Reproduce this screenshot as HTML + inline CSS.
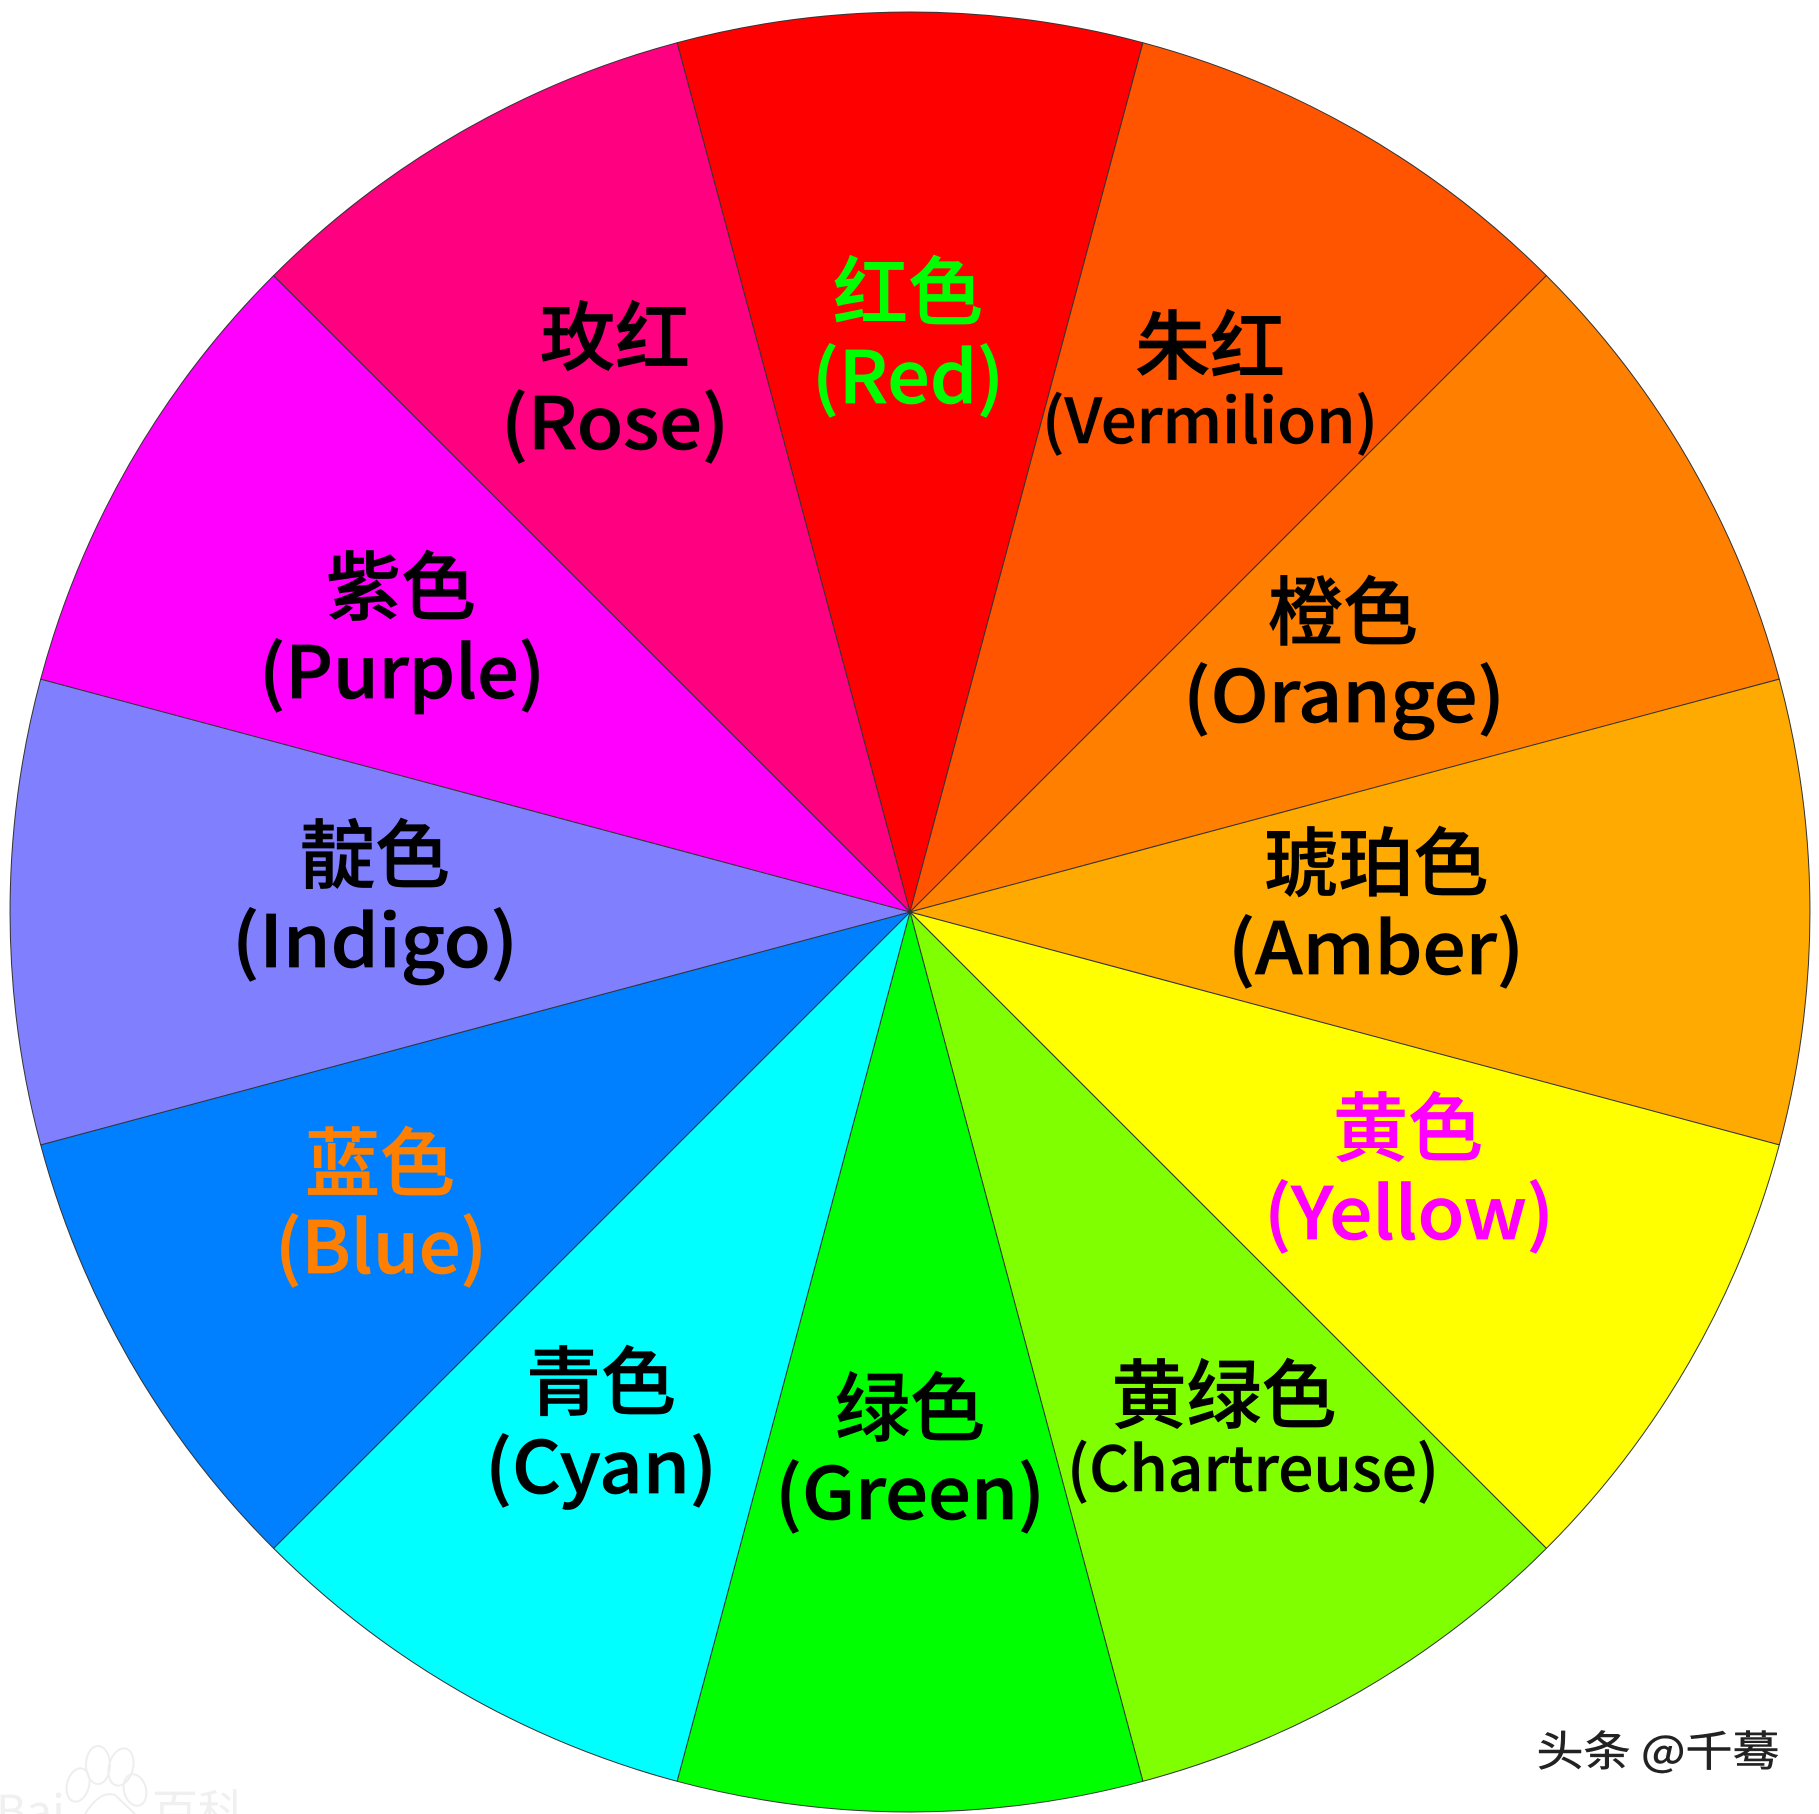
<!DOCTYPE html>
<html lang="zh">
<head>
<meta charset="utf-8">
<title>色轮</title>
<style>
html,body{margin:0;padding:0;background:#fff;width:1819px;height:1814px;overflow:hidden}
svg{display:block}
text{font-family:"Noto Sans CJK SC","Liberation Sans",sans-serif;font-weight:500;text-anchor:middle}
.c{font-size:75px;stroke-width:.7px}
.l{font-size:72px;stroke-width:.8px}
.s{font-size:62px;stroke-width:.6px}
</style>
</head>
<body>
<svg xmlns="http://www.w3.org/2000/svg" width="1819" height="1814" viewBox="0 0 1819 1814">
<rect width="1819" height="1814" fill="#fff"/>
<g stroke="#333" stroke-width="1" stroke-linejoin="round">
<path fill="#ff0000" d="M910 912L677.1 42.7A900 900 0 0 1 1142.9 42.7Z"/>
<path fill="#ff5500" d="M910 912L1142.9 42.7A900 900 0 0 1 1546.4 275.6Z"/>
<path fill="#ff8000" d="M910 912L1546.4 275.6A900 900 0 0 1 1779.3 679.1Z"/>
<path fill="#ffaa00" d="M910 912L1779.3 679.1A900 900 0 0 1 1779.3 1144.9Z"/>
<path fill="#ffff00" d="M910 912L1779.3 1144.9A900 900 0 0 1 1546.4 1548.4Z"/>
<path fill="#80ff00" d="M910 912L1546.4 1548.4A900 900 0 0 1 1142.9 1781.3Z"/>
<path fill="#00ff00" d="M910 912L1142.9 1781.3A900 900 0 0 1 677.1 1781.3Z"/>
<path fill="#00ffff" d="M910 912L677.1 1781.3A900 900 0 0 1 273.6 1548.4Z"/>
<path fill="#0080ff" d="M910 912L273.6 1548.4A900 900 0 0 1 40.7 1144.9Z"/>
<path fill="#8080ff" d="M910 912L40.7 1144.9A900 900 0 0 1 40.7 679.1Z"/>
<path fill="#ff00ff" d="M910 912L40.7 679.1A900 900 0 0 1 273.6 275.6Z"/>
<path fill="#ff0080" d="M910 912L273.6 275.6A900 900 0 0 1 677.1 42.7Z"/>
</g>

<g fill="#000" stroke="#000">
<text class="c" x="615" y="364">玫红</text>
<text class="l" x="615" y="449" textLength="228" lengthAdjust="spacingAndGlyphs">(Rose)</text>
<text class="c" x="1210" y="373">朱红</text>
<text class="s" x="1210" y="443" textLength="336" lengthAdjust="spacingAndGlyphs">(Vermilion)</text>
<text class="c" x="1343" y="639">橙色</text>
<text class="l" x="1344" y="722" textLength="322" lengthAdjust="spacingAndGlyphs">(Orange)</text>
<text class="c" x="1376" y="890">琥珀色</text>
<text class="l" x="1376" y="974" textLength="296" lengthAdjust="spacingAndGlyphs">(Amber)</text>
<text class="c" x="1224" y="1422">黄绿色</text>
<text class="s" x="1253" y="1491" textLength="372" lengthAdjust="spacingAndGlyphs">(Chartreuse)</text>
<text class="c" x="910" y="1435">绿色</text>
<text class="l" x="910" y="1519" textLength="270" lengthAdjust="spacingAndGlyphs">(Green)</text>
<text class="c" x="601" y="1409">青色</text>
<text class="l" x="601" y="1493" textLength="232" lengthAdjust="spacingAndGlyphs">(Cyan)</text>
<text class="c" x="375" y="882">靛色</text>
<text class="l" x="375" y="967" textLength="286" lengthAdjust="spacingAndGlyphs">(Indigo)</text>
<text class="c" x="401" y="614">紫色</text>
<text class="l" x="402" y="698" textLength="286" lengthAdjust="spacingAndGlyphs">(Purple)</text>
</g>

<g fill="#00ff00" stroke="#00ff00">
<text class="c" x="908" y="319">红色</text>
<text class="l" x="908" y="403" textLength="192" lengthAdjust="spacingAndGlyphs">(Red)</text>
</g>
<g fill="#ff00ff" stroke="#ff00ff">
<text class="c" x="1408" y="1155">黄色</text>
<text class="l" x="1409" y="1239" textLength="290" lengthAdjust="spacingAndGlyphs">(Yellow)</text>
</g>
<g fill="#ff8000" stroke="#ff8000">
<text class="c" x="380" y="1190">蓝色</text>
<text class="l" x="381" y="1273" textLength="212" lengthAdjust="spacingAndGlyphs">(Blue)</text>
</g>

<text x="1658" y="1766" font-size="42" fill="#222" stroke="#222" stroke-width=".5" style="font-weight:400" textLength="243" lengthAdjust="spacingAndGlyphs">头条 @千蓦</text>

<g fill="none" stroke="#eeeeee" stroke-width="2">
<ellipse cx="98" cy="1765" rx="12" ry="19"/>
<ellipse cx="121" cy="1767" rx="12" ry="19" transform="rotate(15 121 1767)" />
<ellipse cx="78" cy="1785" rx="11" ry="17" transform="rotate(15 78 1785)"/>
<ellipse cx="135" cy="1790" rx="11" ry="16" transform="rotate(-15 135 1790)"/>
<path d="M85 1814Q100 1790 115 1795L135 1814"/>
</g>
<text x="-4" y="1828" font-size="46" fill="#f0f0f0" style="text-anchor:start;font-weight:400">Bai</text>
<text x="152" y="1828" font-size="46" fill="#f0f0f0" style="text-anchor:start;font-weight:400">百科</text>
</svg>
</body>
</html>
